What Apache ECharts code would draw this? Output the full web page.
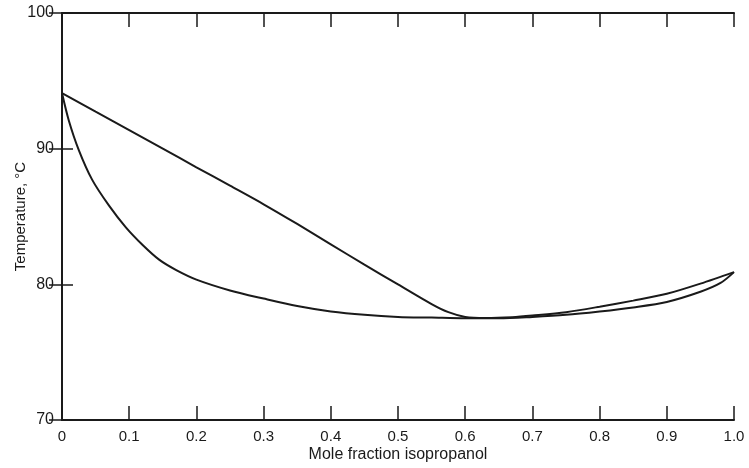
<!DOCTYPE html>
<html>
<head>
<meta charset="utf-8">
<script src="https://cdn.jsdelivr.net/npm/echarts@6/dist/echarts.min.js"></script>
<style>
    html, body { margin: 0; padding: 0; background: #fff; }
    #chart { width: 749px; height: 468px; }
</style>
</head>
<body>
<div id="chart"></div>
<script>
    // vapour (dew point) curve, upper branch
    let dewX = [0, 0.05, 0.1, 0.15, 0.2, 0.25, 0.3, 0.35, 0.4, 0.45, 0.5, 0.55, 0.575, 0.6, 0.63, 0.67, 0.7, 0.75, 0.8, 0.85, 0.9, 0.95, 1.0];
    let dewT = [94.1, 92.73, 91.37, 90.0, 88.63, 87.27, 85.9, 84.45, 82.95, 81.45, 80.0, 78.55, 77.95, 77.6, 77.52, 77.58, 77.7, 77.95, 78.35, 78.8, 79.3, 80.05, 80.9];
    // liquid (bubble point) curve, lower branch
    let bubbleX = [0, 0.01, 0.025, 0.045, 0.07, 0.095, 0.12, 0.145, 0.17, 0.2, 0.25, 0.3, 0.35, 0.4, 0.45, 0.5, 0.55, 0.6, 0.65, 0.7, 0.75, 0.8, 0.85, 0.9, 0.95, 0.98, 1.0];
    let bubbleT = [94.1, 92.1, 89.9, 87.7, 85.8, 84.2, 82.9, 81.8, 81.05, 80.35, 79.55, 78.95, 78.4, 78.0, 77.75, 77.6, 77.55, 77.5, 77.5, 77.6, 77.75, 78.0, 78.3, 78.7, 79.45, 80.1, 80.9];
    let xTicks = [0, 0.1, 0.2, 0.3, 0.4, 0.5, 0.6, 0.7, 0.8, 0.9, 1.0];
    let yTicks = [70, 80, 90, 100];

    let ink = '#1a1a1a';
    let font = 'Liberation Sans';

    function pairs(xs, ys){
        return xs.map((x, i) => [x, ys[i]]);
    }

    let myChart = echarts.init(document.getElementById('chart'), null, {renderer: 'canvas'});
    let option = {
        backgroundColor: '#fff',
        animation: false,
        grid: {
            left: 62,
            right: 15,
            top: 13,
            bottom: 48,
            containLabel: false,
            outerBoundsMode: 'none'
        },
        xAxis: [
            {
                type: 'value',
                min: 0,
                max: 1,
                interval: 0.1,
                name: 'Mole fraction isopropanol',
                nameLocation: 'middle',
                nameGap: 27,
                nameMoveOverlap: false,
                nameTextStyle: { color: ink, fontSize: 16, fontFamily: font },
                axisLine: { lineStyle: { color: ink, width: 2 } },
                axisTick: { inside: true, length: 14, lineStyle: { color: ink, width: 1.5 } },
                axisLabel: {
                    color: ink,
                    fontSize: 15,
                    fontFamily: font,
                    margin: 9,
                    formatter: function (val) {
                        if (xTicks.indexOf(val) < 0) return '';
                        if (val === 0) return '0';
                        return val.toFixed(1);
                    }
                },
                splitLine: { show: false }
            },
            {
                type: 'value',
                position: 'top',
                min: 0,
                max: 1,
                interval: 0.1,
                axisLine: { lineStyle: { color: ink, width: 2 } },
                axisTick: { inside: true, length: 14, lineStyle: { color: ink, width: 1.5 } },
                axisLabel: { show: false },
                splitLine: { show: false }
            }
        ],
        yAxis: [
            {
                type: 'value',
                min: 70,
                max: 100,
                interval: 10,
                name: 'Temperature, °C',
                nameLocation: 'middle',
                nameGap: 34,
                nameMoveOverlap: false,
                nameTextStyle: { color: ink, fontSize: 15, fontFamily: font },
                axisLine: { show: true, lineStyle: { color: ink, width: 2 } },
                axisTick: { show: true, inside: true, length: 11, lineStyle: { color: ink, width: 1.5 } },
                axisLabel: {
                    color: ink,
                    fontSize: 16,
                    fontFamily: font,
                    margin: 8,
                    formatter: function (val) {
                        return yTicks.indexOf(val) < 0 ? '' : String(val);
                    }
                },
                splitLine: { show: false }
            },
            {
                type: 'value',
                position: 'right',
                min: 70,
                max: 100,
                interval: 10,
                axisLine: { show: true, lineStyle: { color: ink, width: 2 } },
                axisTick: { show: true, inside: true, length: 13, lineStyle: { color: ink, width: 1.5 } },
                axisLabel: { show: false },
                splitLine: { show: false }
            }
        ],
        series: [
            {
                name: 'Vapor',
                type: 'line',
                data: pairs(dewX, dewT),
                smooth: 0.3,
                showSymbol: false,
                lineStyle: { color: ink, width: 2 }
            },
            {
                name: 'Liquid',
                type: 'line',
                data: pairs(bubbleX, bubbleT),
                smooth: 0.3,
                showSymbol: false,
                lineStyle: { color: ink, width: 2 }
            }
        ]
    };
    myChart.setOption(option, true);
</script>
</body>
</html>
